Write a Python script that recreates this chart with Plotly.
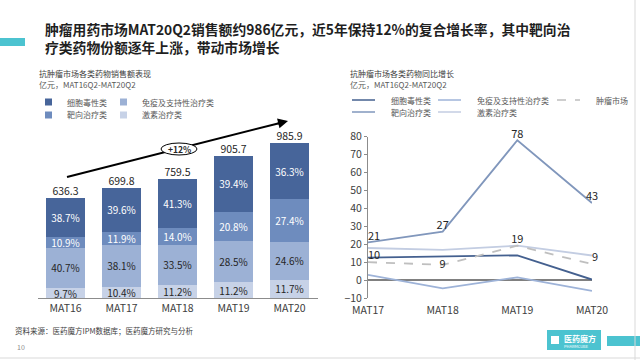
import plotly.graph_objects as go

# ---------------- data ----------------
left_categories = ['MAT16', 'MAT17', 'MAT18', 'MAT19', 'MAT20']
totals = [636.3, 699.8, 759.5, 905.7, 985.9]
share_cyto = [38.7, 39.6, 41.3, 39.4, 36.3]      # 细胞毒性类
share_target = [10.9, 11.9, 14.0, 20.8, 27.4]    # 靶向治疗类
share_immune = [40.7, 38.1, 33.5, 28.5, 24.6]    # 免疫及支持性治疗类
share_hormone = [9.7, 10.4, 11.2, 11.2, 11.7]    # 激素治疗类

right_categories = ['MAT17', 'MAT18', 'MAT19', 'MAT20']
growth_cyto = [12.5, 13.2, 13.8, 0.3]
growth_target = [21, 27, 78, 43]
growth_immune = [2.9, -4.6, 1.5, -6.0]
growth_hormone = [17.9, 16.9, 19.2, 13.7]
growth_market = [10.0, 8.5, 19.2, 8.9]
market_labels = ['10', '9', '19', '9']

FONT = 'Noto Sans CJK SC'
C_CYTO = '#47659A'
C_TARGET = '#6E8CBE'
C_IMMUNE = '#9CB1D5'
C_HORMONE = '#C7D2E7'

L_CYTO = '#44608F'
L_TARGET = '#8197BC'
L_IMMUNE = '#9EB3D8'
L_HORMONE = '#C3CDE2'
L_MARKET = '#BFBFBF'

W, H = 640, 360


def px(x):
    return x / W


def py(y):
    return 1 - y / H


fig = go.Figure()

# ---------------- left stacked bars ----------------
stack = [
    ('激素治疗类', share_hormone, C_HORMONE, '#262626'),
    ('免疫及支持性治疗类', share_immune, C_IMMUNE, '#262626'),
    ('靶向治疗类', share_target, C_TARGET, 'white'),
    ('细胞毒性类', share_cyto, C_CYTO, 'white'),
]
for name, shares, color, tcolor in stack:
    vals = [t * s / 100 for t, s in zip(totals, shares)]
    fig.add_trace(go.Bar(
        x=left_categories, y=vals, name=name, xaxis='x', yaxis='y',
        marker=dict(color=color, line=dict(width=0)),
        text=[f'{s:.1f}%' for s in shares], textposition='inside',
        insidetextanchor='middle', textangle=0,
        textfont=dict(family=FONT, size=10, color=tcolor),
        showlegend=False, hoverinfo='skip'))

fig.add_trace(go.Scatter(
    x=left_categories, y=totals, mode='text', xaxis='x', yaxis='y',
    text=[f'{t:.1f}' for t in totals], textposition='top center',
    textfont=dict(family=FONT, size=10.5, color='#262626'),
    showlegend=False, hoverinfo='skip', cliponaxis=False))

# ---------------- right lines ----------------
line_series = [
    ('细胞毒性类', growth_cyto, L_CYTO, 'solid', None, None),
    ('免疫及支持性治疗类', growth_immune, L_IMMUNE, 'solid', None, None),
    ('激素治疗类', growth_hormone, L_HORMONE, 'solid', None, None),
    ('靶向治疗类', growth_target, L_TARGET, 'solid',
     [str(v) for v in growth_target],
     ['top right', 'top center', 'top center', 'top center']),
    ('肿瘤市场', growth_market, L_MARKET, 'dash', market_labels,
     ['top right', 'middle center', 'top center', 'top right']),
]
for name, vals, color, dash, labels, tpos in line_series:
    fig.add_trace(go.Scatter(
        x=right_categories, y=vals, name=name, xaxis='x2', yaxis='y2',
        mode='lines+text' if labels else 'lines',
        line=dict(color=color, width=1.8, dash=dash),
        text=labels, textposition=tpos,
        textfont=dict(family=FONT, size=11, color='#262626'),
        showlegend=False, hoverinfo='skip', cliponaxis=False))

# ---------------- shapes / annotations ----------------
shapes = []
annotations = []

# left accent bar and title
shapes.append(dict(type='rect', xref='paper', yref='paper', x0=0, x1=px(25),
                   y0=py(46), y1=py(38), fillcolor='#4CC3D0', line=dict(width=0)))
annotations.append(dict(text='<b>肿瘤用药市场MAT20Q2销售额约986亿元，近5年保持12%的复合增长率，其中靶向治</b>'
                             '<br><b>疗类药物份额逐年上涨，带动市场增长</b>',
                        x=px(43), y=py(38.5), xref='paper', yref='paper', xanchor='left', yanchor='middle',
                        align='left', showarrow=False, font=dict(family=FONT, size=13.8, color='#1F1F1F')))

# subtitles
for x0, t1 in [(37, '抗肿瘤市场各类药物销售额表现'), (348, '抗肿瘤市场各类药物同比增长')]:
    annotations.append(dict(text=t1, x=px(x0), y=py(73.5), xref='paper', yref='paper',
                            xanchor='left', yanchor='middle', showarrow=False,
                            font=dict(family=FONT, size=8, color='#404040')))
    annotations.append(dict(text='亿元，MAT16Q2-MAT20Q2', x=px(x0), y=py(84.5), xref='paper', yref='paper',
                            xanchor='left', yanchor='middle', showarrow=False,
                            font=dict(family=FONT, size=8, color='#595959')))

# left legend
left_leg = [
    (45, 102, C_CYTO, '细胞毒性类'), (120, 102, C_IMMUNE, '免疫及支持性治疗类'),
    (45, 115, C_TARGET, '靶向治疗类'), (120, 115, C_HORMONE, '激素治疗类'),
]
for x0, yc, color, label in left_leg:
    shapes.append(dict(type='rect', xref='paper', yref='paper', x0=px(x0), x1=px(x0 + 7),
                       y0=py(yc + 3.5), y1=py(yc - 3.5), fillcolor=color, line=dict(width=0)))
    annotations.append(dict(text=label, x=px(x0 + 20), y=py(yc), xref='paper', yref='paper',
                            xanchor='left', yanchor='middle', showarrow=False,
                            font=dict(family=FONT, size=8, color='#595959')))

# right legend
right_leg = [
    (352, 100, L_CYTO, 'solid', '细胞毒性类'), (438, 100, L_IMMUNE, 'solid', '免疫及支持性治疗类'),
    (557, 100, L_MARKET, 'dash', '肿瘤市场'),
    (352, 112, L_TARGET, 'solid', '靶向治疗类'), (438, 112, L_HORMONE, 'solid', '激素治疗类'),
]
for x0, yc, color, dash, label in right_leg:
    shapes.append(dict(type='line', xref='paper', yref='paper', x0=px(x0), x1=px(x0 + 23),
                       y0=py(yc), y1=py(yc), line=dict(color=color, width=1.5, dash=dash)))
    annotations.append(dict(text=label, x=px(x0 + 37), y=py(yc), xref='paper', yref='paper',
                            xanchor='left', yanchor='middle', showarrow=False,
                            font=dict(family=FONT, size=8, color='#595959')))

# growth arrow with ellipse
shapes.append(dict(type='line', xref='paper', yref='paper', x0=px(67), y0=py(177),
                   x1=px(280), y1=py(123), line=dict(color='black', width=2)))
shapes.append(dict(type='circle', xref='paper', yref='paper', x0=px(161), x1=px(197),
                   y0=py(155), y1=py(143), fillcolor='white', line=dict(color='black', width=1)))
annotations.append(dict(text='', x=px(288), y=py(121), xref='paper', yref='paper',
                        ax=-12, ay=3, showarrow=True, arrowhead=2, arrowsize=1,
                        arrowwidth=2, arrowcolor='black'))
annotations.append(dict(text='<b>+12%</b>', x=px(179), y=py(149), xref='paper', yref='paper',
                        xanchor='center', yanchor='middle', showarrow=False,
                        font=dict(family=FONT, size=8.5, color='#262626')))

# footer
annotations.append(dict(text='资料来源：医药魔方IPM数据库；医药魔方研究与分析', x=px(13), y=py(330),
                        xref='paper', yref='paper', xanchor='left', yanchor='middle', showarrow=False,
                        font=dict(family=FONT, size=7.5, color='#404040')))
annotations.append(dict(text='10', x=px(15), y=py(347), xref='paper', yref='paper',
                        xanchor='left', yanchor='middle', showarrow=False,
                        font=dict(family=FONT, size=7, color='#8C8C8C')))
shapes.append(dict(type='rect', xref='paper', yref='paper', x0=px(547), x1=px(601),
                   y0=py(350), y1=py(330), fillcolor='#4CC3D0', line=dict(width=0)))
shapes.append(dict(type='rect', xref='paper', yref='paper', x0=px(551), x1=px(559),
                   y0=py(344), y1=py(336), fillcolor='white', line=dict(width=0)))
annotations.append(dict(text='<b>医药魔方</b>', x=px(562), y=py(338), xref='paper', yref='paper',
                        xanchor='left', yanchor='middle', showarrow=False,
                        font=dict(family=FONT, size=8, color='white')))
annotations.append(dict(text='PHARMCUBE', x=px(562), y=py(345.5), xref='paper', yref='paper',
                        xanchor='left', yanchor='middle', showarrow=False,
                        font=dict(family=FONT, size=4, color='white')))
shapes.append(dict(type='rect', xref='paper', yref='paper', x0=px(607), x1=1,
                   y0=py(346), y1=py(336), fillcolor='#4CC3D0', line=dict(width=0)))
# page borders
shapes.append(dict(type='line', xref='paper', yref='paper', x0=px(635), x1=px(635),
                   y0=0, y1=1, line=dict(color='#D9D9D9', width=1)))
shapes.append(dict(type='line', xref='paper', yref='paper', x0=0, x1=1,
                   y0=py(358), y1=py(358), line=dict(color='#D9D9D9', width=1)))

fig.update_layout(
    template='none',
    width=W, height=H, autosize=False,
    margin=dict(l=0, r=0, t=0, b=0, pad=0, autoexpand=False),
    paper_bgcolor='white', plot_bgcolor='rgba(0,0,0,0)',
    showlegend=False,
    barmode='stack', bargap=0.30,
    uniformtext=dict(minsize=10, mode='show'),
    font=dict(family=FONT, color='#404040'),
    shapes=shapes, annotations=annotations,
    xaxis=dict(domain=[px(37.5), px(317.5)], anchor='y', type='category', automargin=False,
               showline=True, linecolor='#8C8C8C', linewidth=1, ticks='',
               showgrid=False, tickfont=dict(family=FONT, size=10.5, color='#404040')),
    yaxis=dict(domain=[py(298), py(117.2)], anchor='x', range=[0, 1150], automargin=False,
               showticklabels=False, showgrid=False, zeroline=False, showline=False),
    xaxis2=dict(domain=[px(368), px(592)], anchor='y2', type='category', range=[0, 3],
                automargin=False, showline=False, ticks='', showgrid=False,
                ticklabelstandoff=4,
                tickfont=dict(family=FONT, size=10.5, color='#404040')),
    yaxis2=dict(domain=[py(298), py(136.7)], anchor='x2', range=[-10, 80], dtick=10,
                automargin=False,
                showline=True, linecolor='#8C8C8C', linewidth=1, ticks='outside', ticklen=3,
                tickcolor='#8C8C8C', showgrid=False, zeroline=True, zerolinecolor='#808080',
                zerolinewidth=1.5, tickfont=dict(family=FONT, size=10.5, color='#404040')),
)

fig.write_html('out.html', config={'displayModeBar': False},
               post_script="document.body.style.margin='0';document.body.style.padding='0';"
                           "document.body.style.overflow='hidden';")
